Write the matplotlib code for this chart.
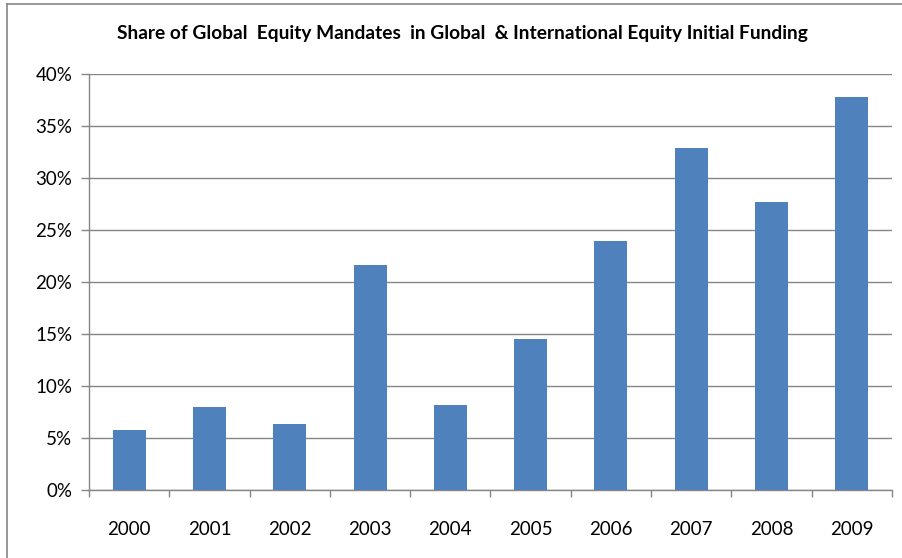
import matplotlib

matplotlib.use("Agg")
import matplotlib.pyplot as plt
from matplotlib.lines import Line2D
from matplotlib.ticker import FuncFormatter, MultipleLocator

years = ["2000", "2001", "2002", "2003", "2004", "2005", "2006", "2007", "2008", "2009"]
share = [5.8, 8.0, 6.3, 21.6, 8.2, 14.5, 23.9, 32.9, 27.7, 37.8]

W, H = 903, 558
BAR = "#4F81BD"
GRID = "#868686"

plt.rcParams["font.family"] = ["Lato", "DejaVu Sans"]

fig = plt.figure(figsize=(W / 100, H / 100), dpi=100)
ax = fig.add_axes([89 / W, (H - 490) / H, (892 - 89) / W, (490 - 74) / H])

x = list(range(len(years)))
ax.bar(x, share, width=0.41, color=BAR, zorder=3)

ax.set_xlim(-0.5, len(years) - 0.5)
ax.set_ylim(0, 40)
ax.yaxis.set_major_locator(MultipleLocator(5))
ax.yaxis.set_major_formatter(FuncFormatter(lambda v, _p: f"{v:.0f}%"))
ax.grid(axis="y", color=GRID, linewidth=1, zorder=0)

ax.set_xticks(x)
ax.set_xticklabels(years)
ax.set_xticks([i - 0.5 for i in range(len(years) + 1)], minor=True)
ax.tick_params(axis="x", which="major", length=0, pad=22, labelsize=13.5)
ax.tick_params(axis="x", which="minor", length=5, color=GRID, width=1, direction="out")
ax.tick_params(axis="y", length=6, color=GRID, width=1, pad=6, labelsize=13.5)

for side in ("top", "right"):
    ax.spines[side].set_visible(False)
for side in ("left", "bottom"):
    ax.spines[side].set_color(GRID)
    ax.spines[side].set_linewidth(1)

fig.text(462 / W, 1 - 34 / H, "Share of Global  Equity Mandates  in Global  & International Equity Initial Funding",
         ha="center", va="center", fontsize=13.8, fontweight="bold")

# outer chart border (only left and top edges are visible in the crop)
fig.add_artist(Line2D([7 / W, 7 / W], [0, 1 - 4 / H], color=GRID, linewidth=1.2))
fig.add_artist(Line2D([7 / W, 1], [1 - 4 / H, 1 - 4 / H], color=GRID, linewidth=1.2))

fig.savefig("out.png", dpi=100)
plt.close(fig)
